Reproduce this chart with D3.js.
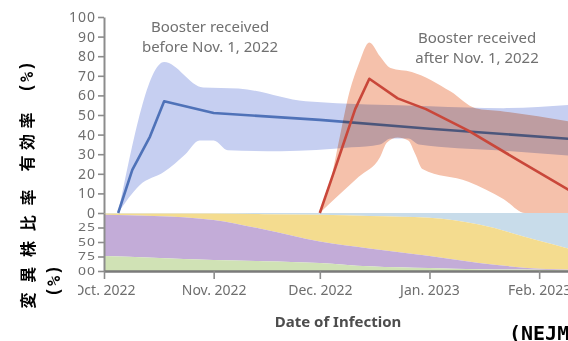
<!DOCTYPE html>
<html>
<head>
<meta charset="utf-8">
<script src="https://cdn.jsdelivr.net/npm/d3@7"></script>
<style>
  html, body { margin: 0; padding: 0; background: #fff; }
  svg { display: block; }
</style>
</head>
<body>
<svg id="chart" width="568" height="341"></svg>
<script>
// ---- Vaccine effectiveness (%), booster received before Nov. 1, 2022 ----
const beforeEstimate = [["2022-10-05",0],["2022-10-09",22],["2022-10-14",39],["2022-10-18",57],["2022-11-01",51],["2022-12-01",47.5],["2023-01-01",43],["2023-02-12",37.5]];
const beforeUpper = [["2022-10-05",0],["2022-10-18",77],["2022-10-29",64],["2022-11-08",63.5],["2022-11-27",57],["2023-01-01",54.5],["2023-01-22",53.5],["2023-02-12",55.5]];
const beforeLower = [["2022-10-05",0],["2022-10-11",14],["2022-10-18",21],["2022-10-24",30],["2022-10-28",37],["2022-11-01",37],["2022-11-05",32],["2022-11-20",31.5],["2022-12-10",33.5],["2022-12-18",35],["2022-12-21",38],["2022-12-26",38],["2022-12-29",35],["2023-01-20",32],["2023-02-12",29]];

// ---- Vaccine effectiveness (%), booster received after Nov. 1, 2022 ----
const afterEstimate = [["2022-12-01",0],["2022-12-05",21],["2022-12-08",37],["2022-12-11",53],["2022-12-15",68.5],["2022-12-23",58.5],["2022-12-31",53],["2023-01-12",42],["2023-01-26",27],["2023-02-12",9]];
const afterUpper = [["2022-12-01",0],["2022-12-03",9],["2022-12-07",42],["2022-12-09",59],["2022-12-12",76],["2022-12-15",87],["2022-12-18",80],["2022-12-21",74],["2022-12-27",72],["2023-01-07",62],["2023-01-14",53.5],["2023-01-21",52],["2023-02-12",46]];
const afterLower = [["2022-12-01",0],["2022-12-06",8.5],["2022-12-12",18.5],["2022-12-18",28.5],["2022-12-20",36],["2022-12-23",38.5],["2022-12-26",37],["2022-12-28",30],["2022-12-30",22.5],["2023-01-12",16],["2023-01-22",7],["2023-01-28",0],["2023-02-12",0]];

// ---- Variant shares (%) by date of infection ----
const shareDates = ["2022-10-01","2022-10-15","2022-11-01","2022-11-15","2022-12-01","2022-12-15","2023-01-01","2023-01-15","2023-02-01","2023-02-12"];
const shareXBB   = [1, 1, 1, 2, 3, 5, 8, 20, 48, 66];
const shareBQ1   = [2, 4, 11, 26, 46, 56, 66, 66, 48, 32];
const shareBA5   = [71, 72, 69, 55, 37, 31, 21, 11, 2, 1];
const shareOther = [26, 23, 19, 17, 14, 8, 5, 3, 2, 1];

// ---- Axis ticks and labels ----
const effTicks = [0, 10, 20, 30, 40, 50, 60, 70, 80, 90, 100];
const shareTicks = [25, 50, 75, 100];
const monthTicks = ["2022-10-01","2022-11-01","2022-12-01","2023-01-01","2023-02-01"];
const noteBefore = ["Booster received", "before Nov. 1, 2022"];
const noteAfter = ["Booster received", "after Nov. 1, 2022"];
const xTitle = "Date of Infection";
const effTitle = "有効率";
const shareTitle = "変異株比率";
const pctUnit = "(%)";
const sourceText = "(NEJM)";

const parse = d3.timeParse("%Y-%m-%d");
const svg = d3.select("#chart");
const sans = "'Noto Sans', 'Open Sans', sans-serif";
const cjk = "'DejaVu Sans Mono', 'Noto Sans CJK JP', monospace";

const x = d3.scaleTime().domain([parse("2022-10-01"), parse("2023-02-10")]).range([104, 571]);
const yEff = d3.scaleLinear().domain([0, 100]).range([213, 17]);
const yShare = d3.scaleLinear().domain([0, 100]).range([213, 271]);

// ---- stacked variant shares (0 at top, 100 at bottom) ----
const shareTable = shareDates.map((d, i) => ({
  date: parse(d), xbb: shareXBB[i], bq1: shareBQ1[i], ba5: shareBA5[i], other: shareOther[i]
}));
const shareKeys = ["xbb", "bq1", "ba5", "other"];
const shareColors = { xbb: "#c8dcea", bq1: "#f4dc8f", ba5: "#c3acd8", other: "#d0e2b5" };
const stacked = d3.stack().keys(shareKeys)(shareTable);
const shareArea = d3.area()
  .x(d => x(d.data.date))
  .y0(d => yShare(d[0]))
  .y1(d => yShare(d[1]))
  .curve(d3.curveMonotoneX);
svg.append("g").selectAll("path").data(stacked).join("path")
  .attr("d", shareArea)
  .attr("fill", s => shareColors[s.key]);

// ---- confidence bands and estimate lines ----
const pt = d => [x(parse(d[0])), yEff(d[1])];
const edge = d3.line().curve(d3.curveMonotoneX);
function bandPath(upper, lower) {
  const top = edge(upper.map(pt));
  const bottom = edge(lower.slice().reverse().map(pt)).replace(/^M/, "L");
  return top + bottom + "Z";
}
const estLine = d3.line().x(d => pt(d)[0]).y(d => pt(d)[1]);

svg.append("path").attr("d", bandPath(beforeUpper, beforeLower))
  .attr("fill", "#c6cff1");
svg.append("path").attr("d", estLine(beforeEstimate))
  .attr("fill", "none").attr("stroke", "#4f72b8").attr("stroke-width", 2.6)
  .attr("stroke-linejoin", "round");
svg.append("path").attr("d", bandPath(afterUpper, afterLower))
  .attr("fill", "#f5c1ab").style("mix-blend-mode", "multiply");
svg.append("path").attr("d", estLine(afterEstimate))
  .attr("fill", "none").attr("stroke", "#c9473a").attr("stroke-width", 2.6)
  .attr("stroke-linejoin", "round");

// ---- axes ----
function styleAxis(g, size) {
  g.select(".domain").attr("stroke", "#8c8c8c").attr("stroke-width", 2);
  g.selectAll(".tick line").attr("stroke", "#8c8c8c").attr("stroke-width", 1.6);
  g.selectAll(".tick text").attr("fill", "#6e6e6e")
    .style("font-family", sans).style("font-size", size + "px");
}
const gEff = svg.append("g").attr("transform", "translate(104,0)")
  .call(d3.axisLeft(yEff).tickValues(effTicks).tickSize(6).tickPadding(2).tickSizeOuter(0));
styleAxis(gEff, 14);
gEff.selectAll(".tick text").style("letter-spacing", "1px");

const gShare = svg.append("g").attr("transform", "translate(104,0)")
  .call(d3.axisLeft(yShare).tickValues(shareTicks).tickSize(6).tickPadding(2).tickSizeOuter(0));
styleAxis(gShare, 14);
gShare.selectAll(".tick text").attr("transform", "scale(1,0.72)").style("letter-spacing", "1px");

const gx = svg.append("g").attr("transform", "translate(0,271)")
  .call(d3.axisBottom(x).tickValues(monthTicks.map(parse))
    .tickFormat(d3.timeFormat("%b. %Y")).tickSize(8).tickPadding(6).tickSizeOuter(0));
styleAxis(gx, 14);
gx.select(".domain").attr("stroke", "#7a7a7a").attr("stroke-width", 2.6);

svg.append("text").attr("x", 338).attr("y", 327).attr("text-anchor", "middle")
  .style("font-family", sans).style("font-size", "15px").style("font-weight", 700)
  .attr("fill", "#4d4d4d").text(xTitle);

// ---- annotations ----
function note(lines, cx, y0) {
  svg.append("g").selectAll("text").data(lines).join("text")
    .attr("x", cx).attr("y", (d, i) => y0 + i * 20).attr("text-anchor", "middle")
    .style("font-family", sans).style("font-size", "15px").attr("fill", "#707070")
    .text(d => d);
}
note(noteBefore, 210, 32);
note(noteAfter, 477, 43);

// ---- left panel titles ----
svg.append("rect").attr("x", 0).attr("y", 203).attr("width", 78).attr("height", 138).attr("fill", "#fff");

function vText(txt, cx, cy, size, spacing) {
  svg.append("text")
    .attr("transform", `translate(${cx},${cy}) rotate(-90)`)
    .attr("x", spacing / 2)
    .attr("text-anchor", "middle").attr("dominant-baseline", "central")
    .style("font-family", cjk).style("font-size", size + "px").style("font-weight", 700)
    .style("letter-spacing", spacing + "px")
    .attr("fill", "#000").text(txt);
}
vText(effTitle, 27, 142, 16, 5.5);
vText(pctUnit, 27, 77, 17, 1);
vText(shareTitle, 28, 249, 16, 9.7);
vText(pctUnit, 54, 281, 17, 1);

svg.append("text").attr("x", 509).attr("y", 340)
  .style("font-family", cjk).style("font-size", "20px").style("font-weight", 700)
  .attr("fill", "#000").text(sourceText);
</script>
</body>
</html>
